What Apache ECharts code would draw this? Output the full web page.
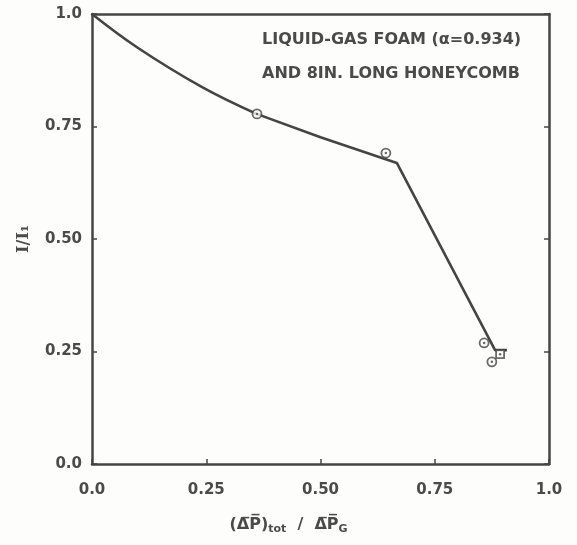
<!DOCTYPE html>
<html>
<head>
<meta charset="utf-8">
<script src="https://cdn.jsdelivr.net/npm/echarts@6/dist/echarts.min.js"></script>
<style>
html,body{margin:0;padding:0;background:#fdfdfb;}
#c{width:577px;height:545px;}
</style>
</head>
<body>
<div id="c"></div>
<script>
// Tick labels
var xTicks = [0, 0.25, 0.5, 0.75, 1.0];
var xTickLabels = ['0.0', '0.25', '0.50', '0.75', '1.0'];
var yTicks = [0, 0.25, 0.5, 0.75, 1.0];
var yTickLabels = ['0.0', '0.25', '0.50', '0.75', '1.0'];

// Fitted curve (smooth part)
var curveX = [0, 0.1, 0.24, 0.36];
var curveY = [1.0, 0.925, 0.838, 0.778];
// Straight segments of the curve
var segX = [0.36, 0.5, 0.667, 0.882, 0.908];
var segY = [0.778, 0.726, 0.669, 0.253, 0.253];

// Measured points (circles)
var circX = [0.361, 0.643, 0.858, 0.875];
var circY = [0.778, 0.691, 0.269, 0.227];
// Measured point (square)
var sqX = [0.893];
var sqY = [0.244];

function pairs(xs, ys) { return xs.map(function (x, i) { return [x, ys[i]]; }); }
function lbl(ticks, labels) { return function (v) { for (var i = 0; i < ticks.length; i++) { if (Math.abs(ticks[i] - v) < 1e-6) return labels[i]; } return ''; }; }

var ink = '#454545';
var chart = echarts.init(document.getElementById('c'));
var labelStyle = { color: '#4a4a4a', fontFamily: 'DejaVu Sans', fontSize: 15, fontWeight: 'bold' };

chart.setOption({
  backgroundColor: '#fdfdfb',
  animation: false,
  grid: { left: 92, right: 28, top: 14, bottom: 81, show: false },
  xAxis: [{
    type: 'value', min: 0, max: 1, interval: 0.25, position: 'bottom',
    axisLine: { show: true, onZero: false, lineStyle: { color: ink, width: 2.5 } },
    axisTick: { show: true, inside: true, length: 5, lineStyle: { color: ink, width: 1.5 } },
    axisLabel: Object.assign({ margin: 19, formatter: lbl(xTicks, xTickLabels) }, labelStyle),
    splitLine: { show: false },
    name: '{a|(Δ̅P̅)}{s|tot}{a|  /  Δ̅P̅}{s|G}',
    nameLocation: 'middle', nameGap: 50,
    nameTextStyle: { padding: [0, 64, 0, 0], rich: {
      a: { fontFamily: 'DejaVu Sans', fontSize: 16, fontWeight: 'bold', color: '#4a4a4a' },
      s: { fontFamily: 'DejaVu Sans', fontSize: 11, fontWeight: 'bold', color: '#4a4a4a', padding: [10, 0, 0, 0] }
    } }
  }, {
    type: 'value', min: 0, max: 1, interval: 0.25, position: 'top',
    axisLine: { show: true, onZero: false, lineStyle: { color: ink, width: 2.5 } },
    axisTick: { show: false }, axisLabel: { show: false }, splitLine: { show: false }
  }],
  yAxis: [{
    type: 'value', min: 0, max: 1, interval: 0.25, position: 'left',
    axisLine: { show: true, onZero: false, lineStyle: { color: ink, width: 2.5 } },
    axisTick: { show: true, inside: true, length: 5, lineStyle: { color: ink, width: 1.5 } },
    axisLabel: Object.assign({ margin: 10, formatter: lbl(yTicks, yTickLabels) }, labelStyle),
    splitLine: { show: false },
    name: 'I/I₁', nameLocation: 'middle', nameGap: 60, nameRotate: 90,
    nameTextStyle: { fontFamily: 'DejaVu Serif', fontSize: 16, fontWeight: 'bold', color: '#4a4a4a', padding: [0, 0, 0, 0] }
  }, {
    type: 'value', min: 0, max: 1, interval: 0.25, position: 'right',
    axisLine: { show: true, onZero: false, lineStyle: { color: ink, width: 2.5 } },
    axisTick: { show: true, inside: true, length: 5, lineStyle: { color: ink, width: 1.5 } },
    axisLabel: { show: false }, splitLine: { show: false }
  }],
  series: [
    { type: 'line', data: pairs(curveX, curveY), smooth: 0.4, symbol: 'none',
      lineStyle: { color: ink, width: 2.6 } },
    { type: 'line', data: pairs(segX, segY), smooth: false, symbol: 'none',
      lineStyle: { color: ink, width: 2.6 } },
    { type: 'scatter', data: pairs(circX, circY), symbol: 'circle', symbolSize: 9,
      itemStyle: { color: '#fdfdfb', borderColor: ink, borderWidth: 1.8 }, z: 5 },
    { type: 'scatter', data: pairs(sqX, sqY), symbol: 'rect', symbolSize: 8,
      itemStyle: { color: '#fdfdfb', borderColor: ink, borderWidth: 1.8 }, z: 5 },
    { type: 'scatter', data: pairs(circX, circY).concat(pairs(sqX, sqY)), symbol: 'circle', symbolSize: 2.5,
      itemStyle: { color: ink }, z: 6 }
  ],
  graphic: [
    { type: 'text', left: 262, top: 32, style: { text: 'LIQUID-GAS FOAM (α=0.934)', fill: '#4a4a4a',
      font: 'bold 16px "DejaVu Sans"' } },
    { type: 'text', left: 262, top: 66, style: { text: 'AND 8IN. LONG HONEYCOMB', fill: '#4a4a4a',
      font: 'bold 16px "DejaVu Sans"' } }
  ]
});
</script>
</body>
</html>
